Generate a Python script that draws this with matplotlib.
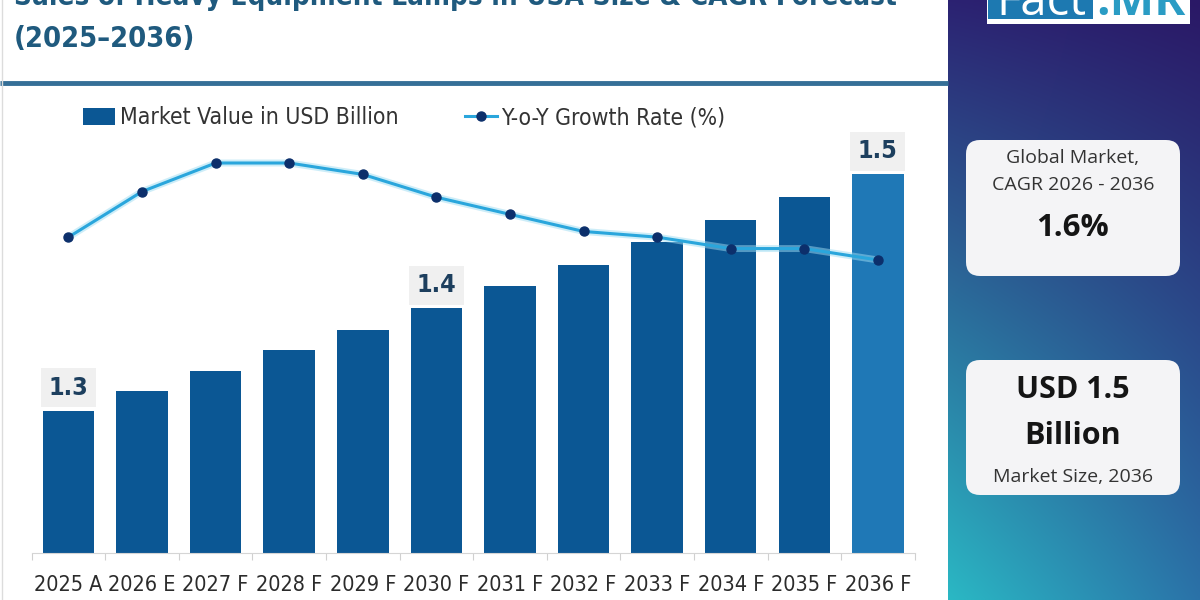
import os
import numpy as np
import matplotlib
matplotlib.use("Agg")
import matplotlib.pyplot as plt
from matplotlib import font_manager
from matplotlib.font_manager import FontProperties
from matplotlib.patches import FancyBboxPatch, Rectangle, Patch
from matplotlib.lines import Line2D

# ---- data ----
years = ["2025 A", "2026 E", "2027 F", "2028 F", "2029 F", "2030 F",
         "2031 F", "2032 F", "2033 F", "2034 F", "2035 F", "2036 F"]
market_value = [1.300, 1.319, 1.339, 1.359, 1.379, 1.400,
                1.421, 1.442, 1.464, 1.486, 1.508, 1.530]
yoy_growth = [1.52, 1.60, 1.65, 1.65, 1.63, 1.59,
              1.56, 1.53, 1.52, 1.50, 1.50, 1.48]
value_labels = ["1.3", "", "", "", "", "1.4", "", "", "", "", "", "1.5"]

title_1 = "Sales of Heavy Equipment Lamps in USA Size & CAGR Forecast"
title_2 = "(2025\u20132036)"
cagr_text = "1.6%"
size_text = ["USD 1.5", "Billion"]


# ---- fonts: want a narrow face for the (horizontally squeezed) chart text ----
def pick_font(candidates):
    files = {os.path.basename(f.fname): f.fname for f in font_manager.fontManager.ttflist}
    for c in candidates:
        if c in files:
            return files[c]
    return None


narrow_reg = pick_font(["LiberationSansNarrow-Regular.ttf", "DejaVuSansCondensed.ttf",
                        "LiberationSans-Regular.ttf"])
narrow_bold = pick_font(["LiberationSansNarrow-Bold.ttf", "DejaVuSansCondensed-Bold.ttf",
                         "LiberationSans-Bold.ttf"])


def nfont(size, bold=False):
    path = narrow_bold if bold else narrow_reg
    if path:
        return FontProperties(fname=path, size=size)
    return FontProperties(family="DejaVu Sans", size=size,
                          weight="bold" if bold else "normal")


names = {f.name for f in font_manager.fontManager.ttflist}
PANEL = "Open Sans" if "Open Sans" in names else "DejaVu Sans"

W, H = 1200, 600
fig = plt.figure(figsize=(W / 100, H / 100), dpi=100)
fig.patch.set_facecolor("white")

# background overlay axes in pixel units (y grows downward)
bg = fig.add_axes([0, 0, 1, 1], zorder=0)
bg.set_xlim(0, W)
bg.set_ylim(H, 0)
bg.axis("off")

# right gradient panel
c_tl = np.array([0x2c, 0x22, 0x72]) / 255
c_tr = np.array([0x2a, 0x18, 0x66]) / 255
c_bl = np.array([0x2a, 0xb8, 0xc4]) / 255
c_br = np.array([0x2a, 0x72, 0xa8]) / 255
gy, gx = np.mgrid[0:1:200j, 0:1:100j]
grad = ((1 - gy)[..., None] * ((1 - gx)[..., None] * c_tl + gx[..., None] * c_tr)
        + gy[..., None] * ((1 - gx)[..., None] * c_bl + gx[..., None] * c_br))
bg.imshow(grad, extent=(948, W, H, 0), aspect="auto", interpolation="bilinear", zorder=0)

# logo (cut off at the top like the source)
bg.add_patch(Rectangle((987, -20), 203, 44, facecolor="white", edgecolor="none", zorder=2))
bg.add_patch(Rectangle((988, -20), 105, 39, facecolor="#1d79b1", edgecolor="none", zorder=3))
bg.text(1041, 15, "Fact", color="white", fontsize=34, ha="center", va="baseline",
        family=PANEL, zorder=4)
bg.text(1141, 15, ".MR", color="#2a9cc4", fontsize=34, ha="center", va="baseline",
        family=PANEL, fontweight="bold", zorder=4)

# info boxes
for top, bottom in [(140, 276), (360, 495)]:
    bg.add_patch(FancyBboxPatch((966, top), 214, bottom - top,
                                boxstyle="round,pad=0,rounding_size=14",
                                facecolor="#f4f4f6", edgecolor="none", zorder=2))
bg.text(1073, 158, "Global Market,", ha="center", va="center", fontsize=14,
        color="#333333", family=PANEL, zorder=3)
bg.text(1073, 185, "CAGR 2026 - 2036", ha="center", va="center", fontsize=14,
        color="#333333", family=PANEL, zorder=3)
bg.text(1073, 228, cagr_text, ha="center", va="center", fontsize=22.5,
        color="#151515", family=PANEL, fontweight="bold", zorder=3)
bg.text(1073, 390, size_text[0], ha="center", va="center", fontsize=22,
        color="#151515", family=PANEL, fontweight="bold", zorder=3)
bg.text(1073, 436, size_text[1], ha="center", va="center", fontsize=22,
        color="#151515", family=PANEL, fontweight="bold", zorder=3)
bg.text(1073, 477, "Market Size, 2036", ha="center", va="center", fontsize=14,
        color="#333333", family=PANEL, zorder=3)

# title + rule
bg.text(14, 5, title_1, ha="left", va="baseline", fontproperties=nfont(20, True),
        color="#1f5a7e")
bg.text(14, 39, title_2, ha="left", va="center", fontproperties=nfont(20.8, True),
        color="#1f5a7e")
bg.plot([0, 948], [83, 83], color="#356f97", lw=3.5, solid_capstyle="butt")
bg.plot([2, 2], [0, H], color="#dcdcdc", lw=1)

# ---- main chart ----
ybase = 1.162
px_per_unit = 1029
top_px, bot_px = 100, 553
ax = fig.add_axes([31.7 / W, 1 - bot_px / H, (914.7 - 31.7) / W, (bot_px - top_px) / H], zorder=1)
ax.set_facecolor("none")
x = np.arange(len(years))
bar_colors = ["#0b5794"] * (len(years) - 1) + ["#1f78b6"]
ax.bar(x, market_value, width=0.70, color=bar_colors, zorder=2)
ax.set_xlim(-0.5, len(years) - 0.5)
ax.set_ylim(ybase, ybase + (bot_px - top_px) / px_per_unit)

for i, lab in enumerate(value_labels):
    if lab:
        ax.text(i, market_value[i] + 23 / px_per_unit, lab, ha="center", va="center",
                fontproperties=nfont(18, True), color="#1d3f5e",
                bbox=dict(boxstyle="square,pad=0.3", facecolor="#f0f0f0", edgecolor="none"),
                zorder=3)

ax.set_xticks(x)
ax.set_xticklabels(years, fontproperties=nfont(15.5), color="#2b2b2b")
ax.set_xticks(np.arange(-0.5, len(years), 1), minor=True)
ax.tick_params(axis="x", which="major", length=0, pad=16)
ax.tick_params(axis="x", which="minor", length=5, color="#d0d0d0", width=0.8)
ax.set_yticks([])
for side in ["top", "right", "left"]:
    ax.spines[side].set_visible(False)
ax.spines["bottom"].set_color("#d5d5d5")
ax.spines["bottom"].set_linewidth(0.8)

# growth line on a secondary axis
ax2 = ax.twinx()
ax2.set_zorder(2)
g_top, g_per_px = 1.65, 0.001753
ax2.set_ylim(g_top - (bot_px - 163) * g_per_px, g_top + (163 - top_px) * g_per_px)
ax2.plot(x, yoy_growth, color="#9ddcf2", lw=5, alpha=0.5, zorder=1)
ax2.plot(x, yoy_growth, color="#2aa6dc", lw=2.2, marker="o", markersize=6.5,
         markerfacecolor="#0c2f6b", markeredgecolor="#0c2f6b", zorder=2)
ax2.set_yticks([])
for side in ax2.spines:
    ax2.spines[side].set_visible(False)

# legend
handles = [Patch(facecolor="#0b5794", edgecolor="none"),
           Line2D([0], [0], color="#2aa6dc", lw=2.2, marker="o", markersize=6.5,
                  markerfacecolor="#0c2f6b", markeredgecolor="#0c2f6b")]
leg = fig.legend(handles, ["Market Value in USD Billion", "Y-o-Y Growth Rate (%)"],
                 loc="center left", bbox_to_anchor=(83 / W, 1 - 118 / H), ncol=2,
                 frameon=False, handlelength=1.4, handleheight=0.75, handletextpad=0.2,
                 columnspacing=2.9, borderaxespad=0, borderpad=0,
                 prop=nfont(16.5))
for t in leg.get_texts():
    t.set_color("#333333")

fig.savefig("out.png", dpi=100)
